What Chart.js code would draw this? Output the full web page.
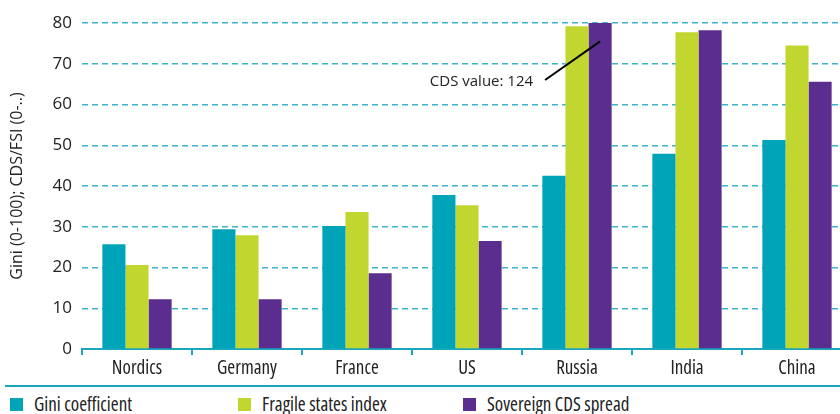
<!DOCTYPE html>
<html>
<head>
<meta charset="utf-8">
<script src="https://cdn.jsdelivr.net/npm/chart.js@4.4.1/dist/chart.umd.min.js"></script>
<style>
  html, body { margin: 0; padding: 0; background: #fff; overflow: hidden; width: 840px; height: 414px; }
  #wrap { position: relative; width: 852px; height: 382px; }
  #rule { position: absolute; left: 5px; top: 385px; width: 835px; height: 0; border-top: 2px solid #1aa6bd; }
  #legend { position: absolute; left: 10px; top: 393px; display: flex; font-family: "Open Sans", sans-serif; font-size: 19px; font-stretch: 80%; line-height: 22px; color: #222; }
  #legend .item { display: flex; align-items: center; }
  #legend .box { width: 13px; height: 13px; margin-right: 11px; }
</style>
</head>
<body>
<div id="wrap"><canvas id="giniChart"></canvas></div>
<div id="rule"></div>
<div id="legend"></div>
<script>
var countries = ['Nordics', 'Germany', 'France', 'US', 'Russia', 'India', 'China'];
var gini = [25.7, 29.4, 30.2, 37.8, 42.5, 47.9, 51.3];
var fragile = [20.6, 27.9, 33.6, 35.3, 79.2, 77.7, 74.5];
// Russia's CDS spread is 124, it runs off the top of the axis
var cds = [12.2, 12.2, 18.6, 26.5, 124, 78.2, 65.6];
var yTicks = [0, 10, 20, 30, 40, 50, 60, 70, 80];
var seriesNames = ['Gini coefficient', 'Fragile states index', 'Sovereign CDS spread'];
var seriesColors = ['#00a4b9', '#c1d72f', '#5b2d8e'];
var calloutText = 'CDS value: 124';

var teal = '#1aa6bd';

// callout line + text for the clipped Russia bar
var callout = {
  id: 'callout',
  afterDatasetsDraw: function (chart) {
    var ctx = chart.ctx;
    var bar = chart.getDatasetMeta(2).data[4];
    var y = chart.scales.y;
    var x1 = bar.x, y1 = y.getPixelForValue(75.5);
    var x0 = x1 - 55, y0 = y.getPixelForValue(66);
    ctx.save();
    ctx.strokeStyle = '#000';
    ctx.lineWidth = 2;
    ctx.beginPath();
    ctx.moveTo(x0, y0);
    ctx.lineTo(x1, y1);
    ctx.stroke();
    ctx.fillStyle = '#222';
    ctx.font = '15px "Open Sans", sans-serif';
    ctx.textAlign = 'right';
    ctx.textBaseline = 'middle';
    ctx.fillText(calloutText, x0 - 12, y0 + 2);
    ctx.restore();
  }
};

var ctx = document.getElementById('giniChart').getContext('2d');
var chart = new Chart(ctx, {
  type: 'bar',
  data: {
    labels: countries,
    datasets: [
      { label: seriesNames[0], data: gini, backgroundColor: seriesColors[0] },
      { label: seriesNames[1], data: fragile, backgroundColor: seriesColors[1] },
      { label: seriesNames[2], data: cds, backgroundColor: seriesColors[2] }
    ]
  },
  options: {
    responsive: true,
    maintainAspectRatio: false,
    animation: false,
    layout: { padding: { top: 23, right: 0, bottom: 0, left: 0 } },
    datasets: { bar: { barPercentage: 1, categoryPercentage: 0.63 } },
    plugins: {
      legend: { display: false },
      tooltip: { enabled: false }
    },
    scales: {
      x: {
        afterFit: function (scale) { scale.height = 33; },
        grid: { drawOnChartArea: false, drawTicks: true, tickLength: 6, color: teal, lineWidth: 2 },
        border: { display: true, color: teal, width: 2 },
        // weight slot carries a stretch keyword so the labels come out condensed
        ticks: { color: '#222', padding: 2, font: { family: '"Open Sans", sans-serif', size: 19, weight: 'semi-condensed' } }
      },
      y: {
        min: 0,
        max: 80,
        afterBuildTicks: function (scale) {
          scale.ticks = yTicks.map(function (v) { return { value: v }; });
        },
        afterFit: function (scale) { scale.width = 82; },
        grid: { color: '#3db4c9', lineWidth: 1.5, drawTicks: false },
        border: { display: false, dash: [6, 4] },
        ticks: { color: '#222', padding: 10, font: { family: '"Open Sans", sans-serif', size: 17 } },
        title: {
          display: true,
          text: 'Gini (0-100); CDS/FSI (0-..)',
          color: '#222',
          padding: { top: 8, bottom: 4 },
          font: { family: '"Open Sans", sans-serif', size: 16 }
        }
      }
    }
  },
  plugins: [callout]
});

var legend = document.getElementById('legend');
var widths = [228, 225, 250];
for (var i = 0; i < seriesNames.length; i++) {
  var item = document.createElement('div');
  item.className = 'item';
  item.style.width = widths[i] + 'px';
  item.innerHTML = '<span class="box" style="background:' + seriesColors[i] + '"></span><span>' + seriesNames[i] + '</span>';
  legend.appendChild(item);
}
</script>
</body>
</html>
